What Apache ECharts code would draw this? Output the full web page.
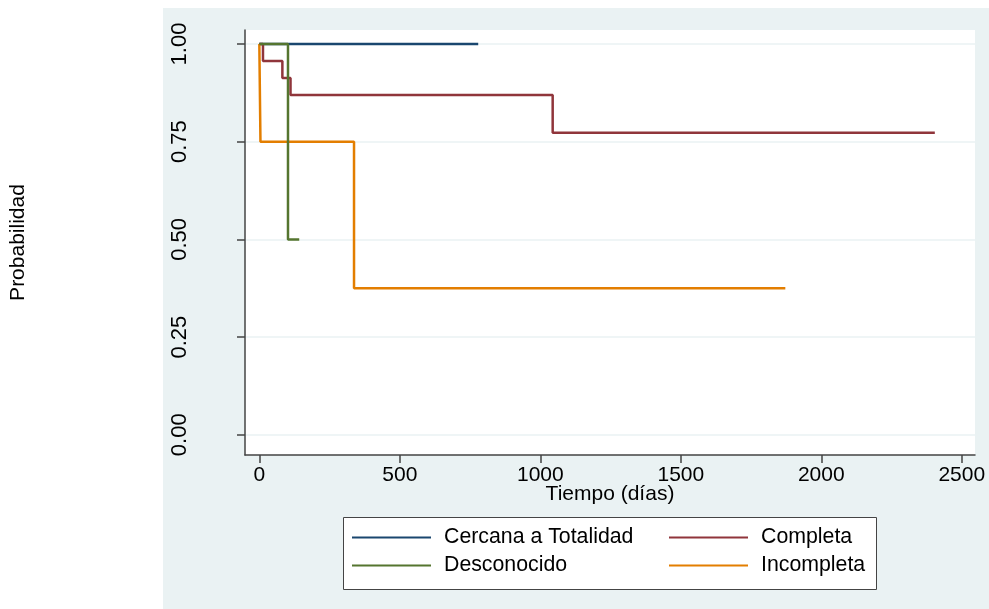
<!DOCTYPE html>
<html>
<head>
<meta charset="utf-8">
<script src="https://cdn.jsdelivr.net/npm/echarts@6/dist/echarts.min.js"></script>
<style>
html,body{margin:0;padding:0;background:#fff;}
#c{width:989px;height:609px;}
</style>
</head>
<body>
<div id="c"></div>
<script>
// ---- data (Kaplan-Meier step curves) ----
const seriesNames = ['Cercana a Totalidad', 'Completa', 'Desconocido', 'Incompleta'];
const cercanaTime = [0, 779];
const cercanaSurv = [1, 1];
const completaTime = [0, 13, 82, 111, 1044, 2404];
const completaSurv = [1, 0.9565, 0.913, 0.8696, 0.7729, 0.7729];
const desconocidoTime = [0, 102, 142];
const desconocidoSurv = [1, 0.5, 0.5];
const incompletaTime = [0, 4, 337, 1872];
const incompletaSurv = [1, 0.75, 0.375, 0.375];
const xTicks = [0, 500, 1000, 1500, 2000, 2500];
const yTicks = [0, 0.25, 0.5, 0.75, 1];
const xTitle = 'Tiempo (días)';
const yTitle = 'Probabilidad';

const colors = {
  'Cercana a Totalidad': '#1a476f',
  'Completa': '#90353b',
  'Desconocido': '#55752f',
  'Incompleta': '#e37e00'
};
const FONT = '"Liberation Sans", Arial, sans-serif';

function pairs(t, s) { return t.map((v, i) => [v, s[i]]); }
function mkSeries(name, t, s, z) {
  return {
    name: name, type: 'line', step: 'end', symbol: 'none', z: z,
    data: pairs(t, s),
    lineStyle: { color: colors[name], width: 2.5 },
    itemStyle: { color: colors[name] },
    emphasis: { disabled: true },
    animation: false
  };
}

const chart = echarts.init(document.getElementById('c'), null, { renderer: 'canvas' });
const legendText = { fontFamily: FONT, fontSize: 21.3, color: '#000', lineHeight: 20, padding: [0, 0, 0, 8] };
chart.setOption({
  backgroundColor: '#eaf2f3',
  animation: false,
  textStyle: { fontFamily: FONT },
  graphic: [
    { type: 'rect', z: -100, silent: true, shape: { x: 0, y: 0, width: 163, height: 609 }, style: { fill: '#fff' } },
    { type: 'rect', z: -100, silent: true, shape: { x: 0, y: 0, width: 989, height: 8 }, style: { fill: '#fff' } },
    { type: 'rect', z: 1, silent: true, shape: { x: 343.5, y: 517.5, width: 533, height: 72 }, style: { fill: '#fff', stroke: '#444', lineWidth: 1 } }
  ],
  grid: {
    left: 244, right: 14, top: 30, bottom: 154,
    show: true, backgroundColor: '#fff', borderWidth: 0
  },
  legend: [
    {
      orient: 'vertical', left: 352, top: 527, itemGap: 7, padding: 0, z: 5,
      itemWidth: 79, itemHeight: 2, icon: 'rect',
      data: ['Cercana a Totalidad', 'Desconocido'],
      textStyle: legendText, selectedMode: false
    },
    {
      orient: 'vertical', left: 669, top: 527, itemGap: 7, padding: 0, z: 5,
      itemWidth: 79, itemHeight: 2, icon: 'rect',
      data: ['Completa', 'Incompleta'],
      textStyle: legendText, selectedMode: false
    }
  ],
  xAxis: {
    type: 'value', min: -51, max: 2547,
    name: xTitle, nameLocation: 'middle', nameGap: 29, nameMoveOverlap: false,
    nameTextStyle: { fontFamily: FONT, fontSize: 21, color: '#000' },
    axisLine: { show: true, onZero: false, lineStyle: { color: '#444', width: 1.5 } },
    axisTick: { show: true, length: 8, customValues: xTicks, lineStyle: { color: '#444', width: 1.5 } },
    axisLabel: { customValues: xTicks, margin: 10, fontFamily: FONT, fontSize: 21, color: '#000', formatter: v => String(v) },
    splitLine: { show: false }
  },
  yAxis: {
    type: 'value', min: -0.0517, max: 1.0358,
    name: yTitle, nameLocation: 'middle', nameGap: 216, nameRotate: 90, nameMoveOverlap: false,
    nameTextStyle: { fontFamily: FONT, fontSize: 21, color: '#000' },
    axisLine: { show: true, onZero: false, lineStyle: { color: '#444', width: 1.5 } },
    axisTick: { show: true, length: 8, customValues: yTicks, lineStyle: { color: '#444', width: 1.5 } },
    axisLabel: { customValues: yTicks, margin: 54, rotate: 90, fontFamily: FONT, fontSize: 22, color: '#000', formatter: v => v.toFixed(2) },
    splitLine: { show: true, lineStyle: { color: '#eaf2f3', width: 1.5 } }
  },
  series: [
    mkSeries('Cercana a Totalidad', cercanaTime, cercanaSurv, 2),
    mkSeries('Completa', completaTime, completaSurv, 3),
    mkSeries('Incompleta', incompletaTime, incompletaSurv, 4),
    mkSeries('Desconocido', desconocidoTime, desconocidoSurv, 5)
  ]
});
</script>
</body>
</html>
